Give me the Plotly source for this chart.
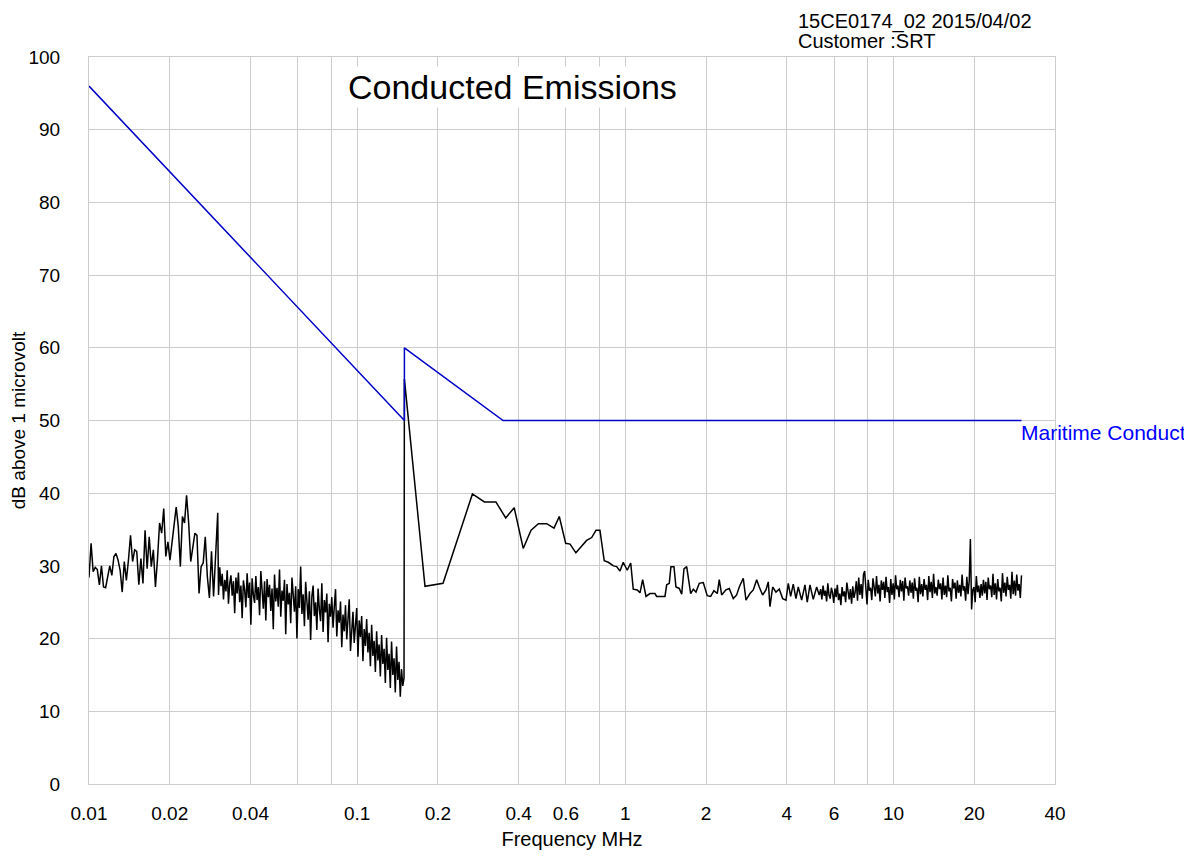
import numpy as np
import plotly.graph_objects as go

# ---------------- data ----------------
# Limit line (Maritime conducted emissions)
limit_freq = [0.01, 0.15, 0.15, 0.35, 30.0]
limit_db = [96.0, 50.0, 60.0, 50.0, 50.0]

# Measured trace, segment A1: 0.01 - 0.0302 MHz (sweep)
segA1_start, segA1_stop = 0.01, 0.0302
segA1_db = [
    28.4, 33.1, 29.2, 29.8, 29.5, 27.4, 30.0, 27.1, 27.0, 28.4,
    30.0, 28.7, 31.3, 31.7, 30.8, 29.4, 26.4, 30.6, 28.0, 30.8,
    34.2, 30.6, 32.2, 32.0, 27.4, 31.0, 27.6, 34.9, 29.6, 34.0,
    29.9, 32.2, 27.1, 31.0, 35.9, 34.5, 37.9, 31.3, 33.3, 30.8,
    33.1, 35.9, 38.1, 35.4, 29.9, 36.8, 35.9, 39.7, 35.9, 30.6,
    32.6, 34.5, 34.2, 26.2, 29.9, 30.4, 34.0, 28.5, 25.6, 32.0,
    25.8, 32.6, 37.3,
]

# Segment A2: 0.0304 - 0.1495 MHz (sweep)
segA2_start, segA2_stop = 0.0304, 0.1495
segA2_db = [
    26.0, 29.8, 27.2, 28.9, 25.4, 28.1, 26.5, 29.4, 24.8, 27.6,
    28.7, 25.9, 27.9, 23.5, 28.4, 26.2, 29.1, 25.0, 27.3, 22.8,
    28.0, 26.7, 24.3, 29.0, 25.6, 27.7, 21.9, 28.3, 26.0, 24.9,
    28.6, 25.3, 27.1, 23.2, 29.3, 26.4, 24.1, 27.9, 22.5, 28.2,
    25.7, 27.4, 23.8, 26.9, 21.3, 28.8, 25.1, 27.0, 24.4, 29.5,
    23.0, 26.6, 25.2, 28.1, 20.6, 27.5, 24.7, 26.3, 22.1, 28.4,
    25.5, 23.7, 27.2, 20.0, 26.8, 24.2, 29.9, 23.4, 26.1, 21.7,
    27.8, 24.9, 22.6, 26.5, 19.8, 25.8, 27.3, 23.1, 25.0, 21.2,
    26.9, 24.0, 22.4, 27.6, 20.9, 25.3, 23.6, 26.2, 19.5, 24.8,
    23.0, 25.7, 21.5, 24.4, 26.8, 20.3, 23.9, 22.2, 25.1, 18.8,
    23.3, 21.0, 24.6, 19.9, 22.8, 25.4, 18.3, 22.0, 23.7, 19.4,
    21.6, 24.2, 17.5, 22.5, 20.2, 23.1, 16.9, 21.3, 19.0, 22.7,
    18.1, 20.8, 16.2, 21.9, 17.6, 19.7, 15.4, 21.0, 17.0, 19.2,
    14.8, 20.5, 16.5, 18.6, 13.9, 20.1, 15.7, 17.9, 13.2, 19.6,
    15.0, 17.3, 12.6, 18.9, 14.3, 16.8, 12.0, 15.8, 13.5, 14.6,
]

# Segment B: 0.15 - 5.3 MHz (individual points)
segB_freq = [
    0.150, 0.179, 0.209, 0.269, 0.298, 0.329, 0.358, 0.385, 0.416, 0.445,
    0.474, 0.509, 0.542, 0.567, 0.599, 0.622, 0.654, 0.717, 0.749, 0.777,
    0.804, 0.834, 0.864, 0.902, 0.928, 0.955, 0.982, 1.016, 1.047, 1.070,
    1.108, 1.134, 1.160, 1.194, 1.235, 1.289, 1.308, 1.405, 1.426, 1.458,
    1.479, 1.518, 1.544, 1.589, 1.622, 1.654, 1.693, 1.716, 1.752, 1.792,
    1.834, 1.886, 1.952, 2.020, 2.080, 2.140, 2.202, 2.239, 2.286, 2.372,
    2.440, 2.526, 2.600, 2.659, 2.752, 2.817, 2.915, 2.999, 3.088, 3.157,
    3.250, 3.344, 3.411, 3.461, 3.542, 3.644, 3.749, 3.860, 3.971, 4.050,
    4.134, 4.227, 4.326, 4.413, 4.543, 4.674, 4.767, 4.879, 5.019, 5.168,
    5.284,
]
segB_db = [
    55.7, 27.2, 27.6, 39.9, 38.8, 38.8, 36.6, 38.0, 32.4, 34.9,
    35.8, 35.8, 35.2, 36.8, 33.1, 33.0, 31.8, 33.5, 33.9, 34.9,
    34.9, 30.7, 30.5, 30.0, 29.9, 29.3, 30.5, 29.4, 30.4, 26.8,
    26.7, 26.3, 28.1, 25.8, 26.2, 26.2, 25.8, 25.8, 27.4, 27.6,
    29.9, 29.9, 27.1, 26.9, 26.1, 29.6, 29.9, 28.3, 26.2, 26.8,
    26.4, 27.6, 27.7, 25.9, 25.8, 26.6, 26.2, 28.1, 26.0, 26.7,
    26.9, 25.5, 26.0, 27.1, 28.3, 25.3, 26.2, 26.7, 28.1, 27.1,
    26.0, 26.7, 27.8, 24.4, 27.1, 26.4, 26.8, 25.5, 25.3, 27.6,
    25.8, 27.5, 25.5, 27.1, 25.3, 27.4, 25.0, 27.4, 25.4, 27.1,
    26.0,
]

# Segment D: 5.35 - 30 MHz (sweep)
segD_start, segD_stop = 5.35, 30.0
segD_db = [
    26.8, 25.4, 27.3, 25.9, 26.6, 25.1, 27.6, 26.0, 25.5, 27.0,
    26.3, 24.9, 26.9, 25.7, 27.4, 25.3, 26.2, 24.6, 27.1, 25.8,
    26.5, 25.0, 27.7, 26.1, 25.4, 26.8, 24.8, 27.2, 25.6, 26.4,
    27.9, 25.2, 28.4, 26.0, 27.5, 25.5, 28.8, 29.3, 26.3, 24.7,
    28.1, 26.6, 27.0, 25.3, 28.3, 26.9, 25.8, 28.6, 26.2, 27.4,
    25.1, 28.0, 26.7, 27.8, 25.6, 28.5, 26.4, 27.1, 24.9, 28.2,
    26.0, 27.6, 25.4, 28.7, 26.8, 27.3, 25.7, 28.1, 26.5, 27.9,
    25.2, 28.4, 26.9, 27.2, 25.9, 28.0, 26.3, 27.7, 25.5, 28.3,
    26.6, 27.0, 25.0, 28.5, 26.1, 27.5, 25.8, 28.2, 26.7, 27.4,
    25.3, 28.6, 26.4, 27.8, 25.6, 28.9, 26.2, 27.1, 25.9, 28.1,
    26.8, 27.6, 25.4, 28.4, 26.0, 27.3, 25.7, 28.7, 26.5, 27.0,
    25.1, 28.2, 26.9, 27.7, 25.5, 28.0, 26.3, 27.4, 25.8, 28.8,
    26.6, 27.2, 25.2, 28.5, 26.1, 27.9, 33.7, 24.0, 26.7, 27.1,
    25.0, 28.6, 26.4, 27.3, 25.6, 27.5, 25.9, 28.1, 26.2, 27.8,
    25.3, 28.4, 26.8, 27.3, 25.7, 28.9, 26.0, 27.6, 25.4, 28.2,
    26.5, 27.0, 25.1, 29.0, 26.3, 27.7, 25.8, 28.5, 26.7, 27.4,
    25.5, 29.2, 26.1, 28.0, 25.9, 28.8, 26.6, 27.5, 25.6, 28.7,
]

# Axis ticks
grid_vals = [0.01, 0.02, 0.04, 0.06, 0.08, 0.1, 0.2, 0.4, 0.6, 0.8,
             1, 2, 4, 6, 8, 10, 20, 40]
grid_text = ["0.01", "0.02", "0.04", "", "", "0.1", "0.2", "0.4", "0.6", "",
             "1", "2", "4", "6", "", "10", "20", "40"]
y_ticks = [0, 10, 20, 30, 40, 50, 60, 70, 80, 90, 100]

# ---------------- build ----------------
meas_freq = np.concatenate([
    np.geomspace(segA1_start, segA1_stop, len(segA1_db)),
    np.geomspace(segA2_start, segA2_stop, len(segA2_db)),
    np.array(segB_freq),
    np.geomspace(segD_start, segD_stop, len(segD_db)),
])
meas_db = segA1_db + segA2_db + segB_db + segD_db

FONT = "Liberation Sans, Arial, sans-serif"
FS = 19

fig = go.Figure()
fig.add_trace(go.Scatter(x=meas_freq, y=meas_db, mode="lines",
                         line=dict(color="black", width=1.5),
                         showlegend=False, hoverinfo="skip"))
fig.add_trace(go.Scatter(x=limit_freq, y=limit_db, mode="lines",
                         line=dict(color="#0000c8", width=1.5),
                         showlegend=False, hoverinfo="skip"))

fig.update_layout(
    width=1184, height=848,
    margin=dict(l=81, r=137, t=49, b=72, autoexpand=False),
    paper_bgcolor="white", plot_bgcolor="white",
    font=dict(family=FONT, size=FS, color="black"),
    xaxis=dict(
        type="log", range=[np.log10(0.01), np.log10(40)],
        tickmode="array", tickvals=grid_vals, ticktext=grid_text,
        showgrid=True, gridcolor="#cccccc", gridwidth=1,
        showline=True, linecolor="#cccccc", linewidth=1, mirror=True,
        ticks="", ticklabelstandoff=12, automargin=False,
        zeroline=False,
        title=dict(text="Frequency MHz", font=dict(size=20), standoff=9),
    ),
    yaxis=dict(
        range=[0, 100], tickmode="array", tickvals=y_ticks,
        showgrid=True, gridcolor="#cccccc", gridwidth=1,
        showline=True, linecolor="#cccccc", linewidth=1, mirror=True,
        ticks="", ticklabelstandoff=24, zeroline=False, automargin=False,
        title=dict(text="dB above 1 microvolt", font=dict(size=FS), standoff=3),
    ),
    annotations=[
        dict(text="Conducted Emissions", xref="paper", yref="paper",
             x=0.4379, y=0.9587, xanchor="center", yanchor="middle",
             showarrow=False, font=dict(size=34, color="black"),
             bgcolor="white"),
        dict(text="15CE0174_02 2015/04/02",
             xref="paper", yref="paper", x=0.733, y=1.0482,
             xanchor="left", yanchor="middle", align="left", borderpad=0,
             showarrow=False, font=dict(size=20, color="black")),
        dict(text="Customer :SRT",
             xref="paper", yref="paper", x=0.733, y=1.0225,
             xanchor="left", yanchor="middle", align="left", borderpad=0,
             showarrow=False, font=dict(size=20, color="black")),
        dict(text="Maritime Conduct", xref="x", yref="y",
             x=np.log10(30.0), y=50, xanchor="left", yanchor="top",
             xshift=-2, yshift=2,
             showarrow=False, font=dict(size=21, color="#0000ff")),
    ],
)

fig.write_html("out.html")
